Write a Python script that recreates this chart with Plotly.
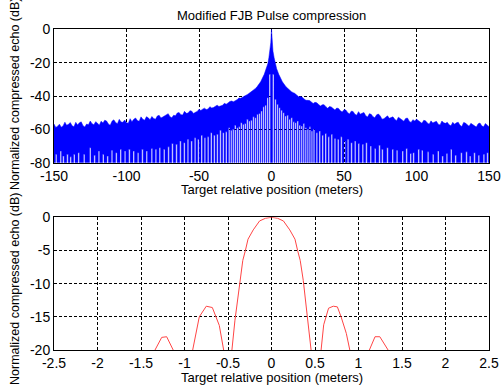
import plotly.graph_objects as go

W, H = 502, 386

# ---------------- Top panel data (full range compressed echo, dB) ----------------
# upper envelope, left flank (x = -150 ... -10)
left_x = [-150, -147.5, -145, -142.5, -140, -137.5, -135, -132.5, -130, -127.5, -125, -122.5,
          -120, -117.5, -115, -112.5, -110, -107.5, -105, -102.5, -100, -97.5, -95, -92.5,
          -90, -87.5, -85, -82.5, -80, -77.5, -75, -72.5, -70, -67.5, -65, -62.5, -60, -57.5,
          -55, -52.5, -50, -47.5, -45, -42.5, -40, -37.5, -35, -32.5, -30, -27.5, -25, -22.5,
          -20, -17.5, -15, -12.5, -10]
left_db = [-56.8, -58.1, -58.7, -55.7, -56.9, -57.9, -55.8, -56.1, -57.8, -56.8, -55.0, -57.2,
           -56.3, -55.1, -54.5, -56.8, -55.1, -55.9, -54.0, -55.8, -56.0, -53.6, -54.0, -54.7,
           -52.5, -54.5, -53.1, -52.3, -53.9, -51.6, -52.6, -50.8, -52.5, -51.5, -50.2, -51.2,
           -49.2, -50.2, -49.1, -49.8, -48.0, -47.9, -48.1, -46.4, -46.9, -45.5, -45.9, -44.4,
           -44.2, -43.0, -42.8, -41.2, -40.7, -39.3, -38.1, -36.4, -34.5]
# envelope values half-way between consecutive left_x samples
left_mid_db = [-58.9, -56.9, -58.0, -57.6, -55.9, -58.4, -57.4, -55.5, -58.6, -57.3, -56.6,
               -55.4, -57.5, -56.2, -55.0, -57.6, -54.3, -56.6, -55.6, -54.4, -56.3, -55.4,
               -53.2, -55.2, -53.9, -52.4, -54.2, -53.5, -52.0, -53.2, -51.9, -50.6, -53.0,
               -51.9, -49.9, -51.4, -50.4, -48.8, -50.5, -49.3, -48.7, -47.3, -47.8, -47.2,
               -46.0, -46.3, -45.6, -44.9, -43.3, -43.5, -42.3, -41.4, -40.2, -38.9, -37.4,
               -35.6]
# main lobe region
center_x = [-7.5, -5, -3.5, -2.5, -1.8, -1.0, -0.5, 0, 0.5, 1.0, 1.8, 2.5, 3.5, 5, 7.5]
center_db = [-31.5, -27.0, -23.5, -20.5, -17.0, -13.0, -8.0, 0.0, -8.0, -13.0, -17.0, -20.5,
             -23.5, -27.0, -31.5]
# upper envelope, right flank (x = 10 ... 150)
right_x = [10, 12.5, 15, 17.5, 20, 22.5, 25, 27.5, 30, 32.5, 35, 37.5, 40, 42.5, 45, 47.5,
           50, 52.5, 55, 57.5, 60, 62.5, 65, 67.5, 70, 72.5, 75, 77.5, 80, 82.5, 85, 87.5,
           90, 92.5, 95, 97.5, 100, 102.5, 105, 107.5, 110, 112.5, 115, 117.5, 120, 122.5,
           125, 127.5, 130, 132.5, 135, 137.5, 140, 142.5, 145, 147.5, 150]
right_db = [-34.5, -36.3, -38.0, -39.6, -40.3, -41.8, -42.6, -43.6, -43.8, -45.1, -45.3, -46.4,
            -46.3, -47.5, -47.2, -48.9, -48.2, -49.9, -49.1, -50.9, -49.4, -50.3, -51.8, -50.6,
            -52.4, -51.3, -52.0, -53.6, -51.9, -53.1, -54.0, -52.7, -54.3, -53.5, -55.1, -54.2,
            -53.9, -55.8, -54.6, -56.2, -54.9, -55.6, -56.9, -55.0, -56.4, -57.3, -55.8, -56.1,
            -57.6, -55.9, -57.3, -56.4, -58.0, -56.7, -57.9, -56.5, -58.4]
right_mid_db = [-35.6, -37.4, -38.5, -40.5, -40.7, -42.6, -42.7, -44.5, -44.1, -46.0, -45.2,
                -47.4, -46.6, -48.4, -47.5, -49.6, -48.4, -50.8, -49.3, -51.5, -50.9, -49.9,
                -52.6, -51.0, -53.0, -50.8, -53.9, -52.8, -53.4, -52.5, -54.8, -53.6, -55.1,
                -53.2, -55.9, -55.0, -54.6, -56.4, -54.9, -56.9, -56.2, -55.2, -57.4, -56.1,
                -55.8, -57.9, -56.9, -55.7, -58.3, -56.2, -58.1, -57.0, -58.6, -56.2, -58.5,
                -57.3]

# deep nulls of the echo trace (white gaps rising from the -80 dB floor)
notch_x = [-148.5, -145.3, -143.5, -140.7, -138.5, -136.0, -133.0, -129.2, -125.0, -122.0,
           -119.0, -116.0, -113.0, -110.0, -107.0, -104.0, -101.0, -98.0, -95.0, -92.0,
           -89.0, -86.0, -82.5, -79.7, -77.0, -74.0, -71.0, -68.3, -65.5, -62.8, -60.1,
           -57.6, -55.1, -52.7, -50.4, -48.1, -45.9, -43.7, -41.5, -39.4, -37.3, -35.2,
           -33.2, -31.2, -29.2, -27.8, -26.4, -25.0, -23.6, -22.2, -20.8, -19.4, -18.0,
           -16.6, -15.2, -13.8, -12.4, -11.0, -9.6, -8.2, -6.8, -5.4, -4.0, -2.6, -1.2,
           1.2, 2.7, 4.1, 5.5, 6.9, 8.3, 9.7, 11.1, 12.5, 13.9, 15.3, 16.7, 18.1, 19.5,
           20.9, 22.3, 23.7, 25.1, 26.5, 27.9, 29.3, 31.3, 33.3, 35.3, 37.4, 39.5, 41.6,
           43.8, 46.0, 48.2, 50.5, 52.8, 55.2, 57.7, 60.2, 63.0, 65.5, 68.5, 71.5, 74.5,
           76.5, 80.0, 83.6, 86.6, 90.5, 93.2, 96.0, 98.0, 101.5, 104.0, 108.0, 111.5,
           115.0, 118.0, 121.0, 124.0, 127.0, 131.0, 134.5, 137.0, 140.0, 143.0, 146.5, 149.0]
notch_db = [-75.0, -73.0, -76.0, -75.0, -76.5, -75.0, -74.0, -75.0, -71.0, -75.5,
            -73.0, -75.0, -76.0, -72.5, -74.0, -72.0, -73.0, -72.0, -73.0, -74.0,
            -72.0, -73.0, -71.5, -72.0, -71.0, -72.0, -70.5, -68.5, -69.0, -67.0, -68.0,
            -66.0, -67.0, -65.0, -66.0, -63.5, -65.0, -64.5, -62.0, -63.5, -63.0, -60.5,
            -62.0, -61.5, -59.0, -60.5, -60.0, -57.5, -59.0, -58.5, -56.0, -57.0, -56.5,
            -54.0, -55.0, -54.5, -52.5, -53.0, -51.0, -50.5, -49.0, -46.5, -45.5, -41.0, -27.0,
            -27.0, -42.0, -45.0, -47.0, -48.5, -50.0, -52.0, -51.5, -54.0, -53.0, -55.5,
            -56.0, -55.0, -57.5, -58.0, -56.5, -59.0, -60.0, -58.5, -61.0, -60.0, -62.0,
            -61.0, -63.5, -62.5, -64.5, -63.0, -65.5, -66.0, -64.5, -67.0, -66.0, -68.0,
            -67.0, -68.5, -69.0, -68.0, -70.0, -71.5, -69.5, -72.0, -71.0, -72.0, -72.5,
            -73.0, -71.5, -74.5, -74.0, -72.0, -72.5, -73.5, -75.0, -73.0, -76.0, -74.5,
            -72.0, -75.5, -74.0, -73.5, -76.0, -74.0, -75.5, -75.0, -74.0]

top_xticks = [-150, -100, -50, 0, 50, 100, 150]
top_xtext = ["-150", "-100", "-50", "0", "50", "100", "150"]
top_yticks = [-80, -60, -40, -20, 0]
top_ytext = ["-80", "-60", "-40", "-20", "0"]

# ---------------- Bottom panel data (zoom around main lobe, dB) ----------------
zoom_x = [-1.50, -1.339, -1.262, -1.205, -1.13, -1.0, -0.906, -0.83, -0.75, -0.68, -0.60,
          -0.55, -0.50, -0.455, -0.42, -0.40, -0.365, -0.33, -0.30, -0.27, -0.21, -0.137,
          -0.07, 0.0, 0.07, 0.137, 0.21, 0.27, 0.30, 0.33, 0.365, 0.40, 0.42, 0.455, 0.50,
          0.57, 0.60, 0.656, 0.71, 0.757, 0.80, 0.86, 0.90, 1.0, 1.125, 1.19, 1.245, 1.34, 1.50]
zoom_db = [-40.0, -20.0, -18.1, -18.0, -20.0, -40.0, -20.0, -15.0, -13.4, -13.6, -16.3,
           -20.0, -40.0, -20.0, -15.5, -13.5, -9.5, -6.5, -5.0, -3.3, -1.9, -0.55,
           -0.15, 0.0, -0.15, -0.55, -1.9, -3.3, -5.0, -6.5, -9.5, -13.5, -15.5, -20.0, -40.0,
           -20.0, -16.2, -13.7, -13.4, -13.5, -15.0, -17.5, -20.0, -40.0, -20.0, -18.0, -18.0,
           -20.0, -40.0]

bot_xticks = [-2.5, -2, -1.5, -1, -0.5, 0, 0.5, 1, 1.5, 2, 2.5]
bot_xtext = ["-2.5", "-2", "-1.5", "-1", "-0.5", "0", "0.5", "1", "1.5", "2", "2.5"]
bot_yticks = [-20, -15, -10, -5, 0]
bot_ytext = ["-20", "-15", "-10", "-5", "0"]

title_text = "Modified FJB Pulse compression"
xlabel_text = "Target relative position (meters)"
ylabel_text = "Normalized compressed echo (dB)"

# ---------------- build figure ----------------
FLOOR = -80
NOTCH_W = 1.0


def flank(xs, ys, mids):
    ox, oy = [], []
    for i in range(len(xs)):
        ox.append(xs[i])
        oy.append(ys[i])
        if i < len(mids):
            ox.append((xs[i] + xs[i + 1]) / 2)
            oy.append(mids[i])
    return ox, oy


lx, ly = flank(left_x, left_db, left_mid_db)
rx, ry = flank(right_x, right_db, right_mid_db)
top_x = lx + center_x + rx
top_y = ly + center_db + ry

poly_x = list(top_x) + [top_x[-1]]
poly_y = list(top_y) + [FLOOR]
for nx, ny in sorted(zip(notch_x, notch_db), reverse=True):
    poly_x += [nx + NOTCH_W / 2, nx + NOTCH_W / 2, nx - NOTCH_W / 2, nx - NOTCH_W / 2]
    poly_y += [FLOOR, ny, ny, FLOOR]
poly_x += [top_x[0]]
poly_y += [FLOOR]

fig = go.Figure()
fig.add_trace(go.Scatter(x=poly_x, y=poly_y, mode="lines", fill="toself",
                         fillcolor="#0000ff", line=dict(color="#0000ff", width=0.5),
                         xaxis="x", yaxis="y", hoverinfo="skip", showlegend=False))
fig.add_trace(go.Scatter(x=zoom_x, y=zoom_db, mode="lines",
                         line=dict(color="#ff4545", width=1),
                         xaxis="x2", yaxis="y2", hoverinfo="skip", showlegend=False))

FONT = "Liberation Sans, Arial, sans-serif"
tickfont = dict(family=FONT, size=14, color="#000")
common = dict(showline=True, linecolor="#000", linewidth=1, mirror=True,
              showgrid=True, gridcolor="#000", gridwidth=1, griddash="3px,2px",
              zeroline=False, ticks="", tickfont=tickfont, fixedrange=True,
              automargin=False)

x0, x1 = 54 / W, 489 / W
fig.update_layout(
    width=W, height=H, autosize=False,
    margin=dict(l=0, r=0, t=0, b=0, pad=0, autoexpand=False),
    paper_bgcolor="white", plot_bgcolor="white",
    xaxis=dict(domain=[x0, x1], range=[-150, 150], tickvals=top_xticks, ticktext=top_xtext,
               anchor="y", **common),
    yaxis=dict(domain=[1 - 162.7 / H, 1 - 29.3 / H], range=[-80, 0], tickvals=top_yticks,
               ticktext=top_ytext, anchor="x", **common),
    xaxis2=dict(domain=[x0, x1], range=[-2.5, 2.5], tickvals=bot_xticks, ticktext=bot_xtext,
                anchor="y2", **common),
    yaxis2=dict(domain=[1 - 350 / H, 1 - 217.3 / H], range=[-20, 0], tickvals=bot_yticks,
                ticktext=bot_ytext, anchor="x2", **common),
    showlegend=False,
)


def ann(text, xpx, ypx, size=13, angle=0):
    return dict(text=text, x=xpx / W, y=1 - ypx / H, xref="paper", yref="paper",
                xanchor="center", yanchor="middle", showarrow=False, textangle=angle,
                font=dict(family=FONT, size=size, color="#000"))


fig.update_layout(annotations=[
    ann(title_text, 271.5, 15),
    ann(xlabel_text, 271.5, 189),
    ann(xlabel_text, 271.5, 377),
    ann(ylabel_text, 15, 94, size=12.5, angle=-90),
    ann(ylabel_text, 15, 289, size=12.5, angle=-90),
])

fig.write_html("out.html", config={"displayModeBar": False, "staticPlot": True})
